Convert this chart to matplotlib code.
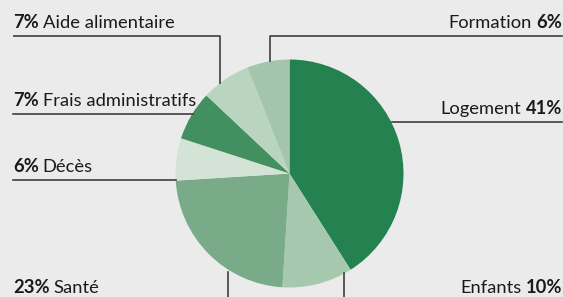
import matplotlib
matplotlib.use("Agg")
import matplotlib.pyplot as plt
import numpy as np

categories = ["Logement", "Enfants", "Santé", "Décès", "Frais administratifs", "Aide alimentaire", "Formation"]
values = [41, 10, 23, 6, 7, 7, 6]
colors = ["#23824F", "#A6C8AE", "#79AB88", "#D3E3D6", "#428F5F", "#B9D4BF", "#A3C5AB"]

W, H = 563, 297
BG = "#EBEBEB"
fig = plt.figure(figsize=(W / 100, H / 100), dpi=100, facecolor=BG)
ax = fig.add_axes([0, 0, 1, 1])
ax.set_facecolor(BG)

cx, cy, r = 289.5, H - 173.5, 114
ax.pie(values, colors=colors, startangle=90, counterclock=False,
       center=(cx, cy), radius=r, wedgeprops=dict(linewidth=0), frame=True)
ax.set_xlim(0, W)
ax.set_ylim(0, H)
ax.set_aspect("equal")
ax.axis("off")

FONT = ["Lato", "DejaVu Sans"]
FS = 13.2
LC = "#3f3f3f"
LW = 1.2
TC = "#1a1a1a"

def Y(p):
    return H - p

def draw_label(side, x, ypx, pct, name):
    if side == "left":
        t1 = ax.text(x, Y(ypx), f"{pct}%", fontsize=FS, fontweight="bold", family=FONT,
                     color=TC, ha="left", va="baseline")
        ax.annotate(name, xy=(1, 0), xycoords=t1, xytext=(4, 0), textcoords="offset pixels",
                    fontsize=FS, family=FONT, color=TC, ha="left", va="bottom")
    else:
        t1 = ax.text(x, Y(ypx), f"{pct}%", fontsize=FS, fontweight="bold", family=FONT,
                     color=TC, ha="right", va="baseline")
        ax.annotate(name, xy=(0, 0), xycoords=t1, xytext=(-4, 0), textcoords="offset pixels",
                    fontsize=FS, family=FONT, color=TC, ha="right", va="bottom")

d = dict(zip(categories, values))

draw_label("left", 13, 28, d["Aide alimentaire"], "Aide alimentaire")
ax.plot([13, 220, 220], [Y(36), Y(36), Y(84)], color=LC, lw=LW, solid_capstyle="butt")
draw_label("left", 13, 106, d["Frais administratifs"], "Frais administratifs")
ax.plot([13, 193], [Y(114), Y(114)], color=LC, lw=LW)
draw_label("left", 13, 172, d["Décès"], "Décès")
ax.plot([13, 176], [Y(180), Y(180)], color=LC, lw=LW)
draw_label("left", 13, 293, d["Santé"], "Santé")
ax.plot([228, 228], [Y(272), Y(297)], color=LC, lw=LW)
draw_label("right", 562, 28, d["Formation"], "Formation")
ax.plot([562, 270, 270], [Y(36), Y(36), Y(61)], color=LC, lw=LW)
draw_label("right", 562, 114, d["Logement"], "Logement")
ax.plot([562, 392], [Y(122), Y(122)], color=LC, lw=LW)
draw_label("right", 562, 293, d["Enfants"], "Enfants")
ax.plot([344, 344], [Y(273), Y(297)], color=LC, lw=LW)

fig.savefig("out.png", dpi=100, facecolor=BG)
